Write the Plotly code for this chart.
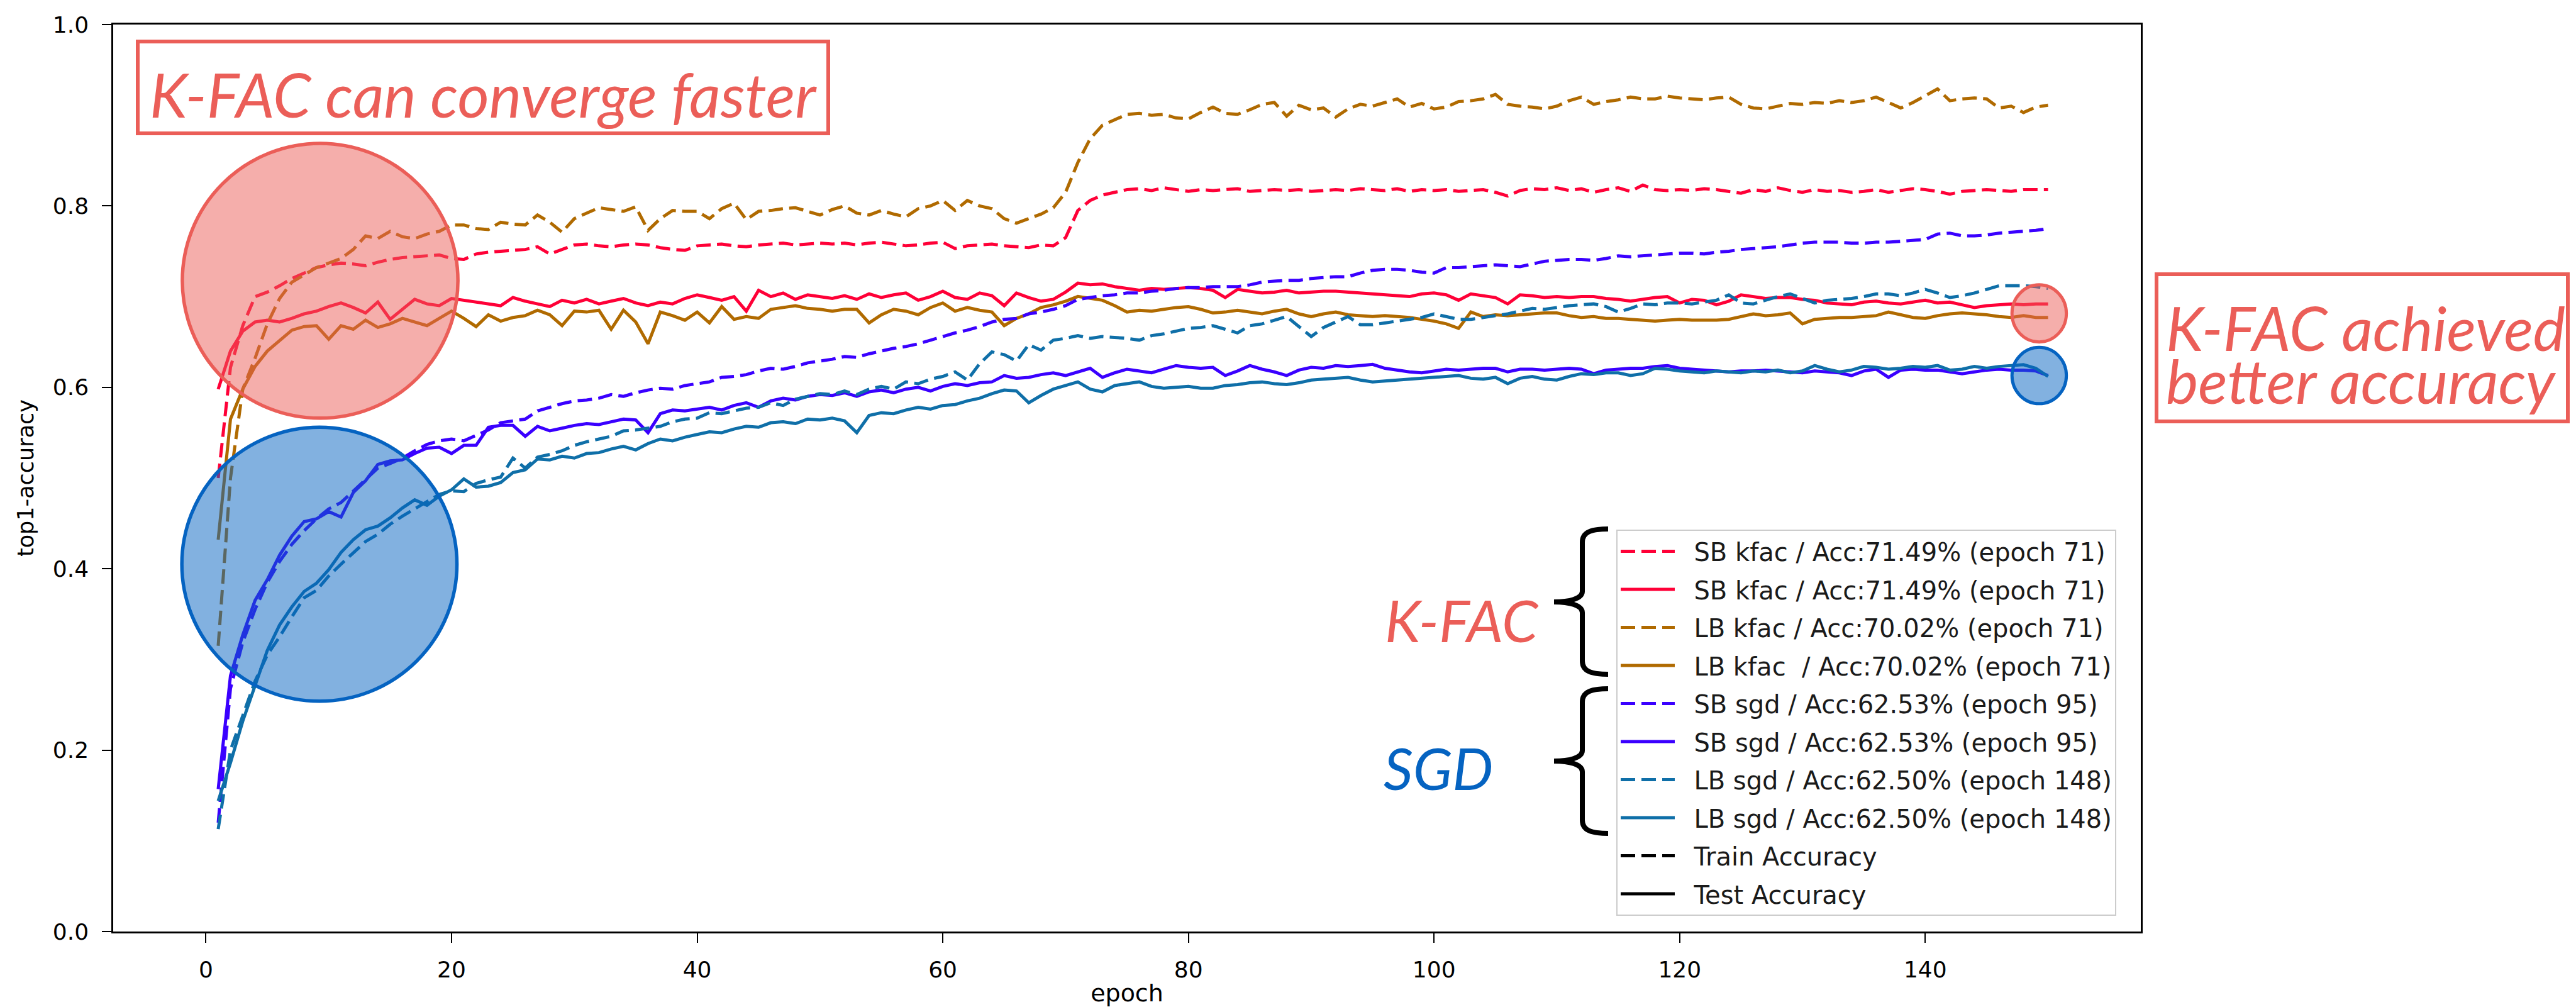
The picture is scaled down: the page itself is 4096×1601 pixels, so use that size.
import plotly.graph_objects as go

epochs = list(range(1, 151))

sb_kfac_train = [
    0.500, 0.622, 0.668, 0.700, 0.705, 0.712, 0.720, 0.726, 0.732, 0.735,
    0.737, 0.736, 0.734, 0.738, 0.741, 0.743, 0.744, 0.745, 0.746, 0.742,
    0.741, 0.747, 0.749, 0.750, 0.751, 0.752, 0.755, 0.747, 0.752, 0.757,
    0.758, 0.756, 0.755, 0.757, 0.758, 0.757, 0.754, 0.752, 0.751, 0.756,
    0.757, 0.758, 0.756, 0.755, 0.757, 0.758, 0.759, 0.757, 0.758, 0.759,
    0.758, 0.759, 0.757, 0.759, 0.760, 0.758, 0.756, 0.757, 0.759, 0.760,
    0.753, 0.756, 0.757, 0.758, 0.756, 0.755, 0.754, 0.757, 0.756, 0.765,
    0.795, 0.806, 0.812, 0.815, 0.818, 0.819, 0.817, 0.820, 0.818, 0.816,
    0.818, 0.817, 0.818, 0.819, 0.816, 0.817, 0.818, 0.817, 0.818, 0.816,
    0.817, 0.818, 0.817, 0.819, 0.818, 0.817, 0.819, 0.816, 0.818, 0.817,
    0.818, 0.816, 0.817, 0.818, 0.815, 0.811, 0.817, 0.819, 0.818, 0.820,
    0.817, 0.819, 0.815, 0.818, 0.820, 0.816, 0.823, 0.818, 0.817, 0.818,
    0.817, 0.819, 0.818, 0.816, 0.814, 0.818, 0.816, 0.820, 0.817, 0.815,
    0.818, 0.816, 0.817, 0.815, 0.816, 0.818, 0.815, 0.817, 0.819, 0.818,
    0.816, 0.813, 0.816, 0.817, 0.818, 0.817, 0.816, 0.818, 0.818, 0.818,
]

sb_kfac_test = [
    0.598, 0.640, 0.662, 0.672, 0.674, 0.672, 0.676, 0.681, 0.684, 0.689,
    0.693, 0.688, 0.682, 0.694, 0.675, 0.686, 0.697, 0.692, 0.690, 0.698,
    0.696, 0.694, 0.692, 0.690, 0.699, 0.695, 0.692, 0.689, 0.696, 0.693,
    0.697, 0.692, 0.695, 0.698, 0.693, 0.690, 0.694, 0.692, 0.698, 0.702,
    0.699, 0.696, 0.700, 0.684, 0.707, 0.700, 0.704, 0.697, 0.702, 0.700,
    0.698, 0.701, 0.697, 0.703, 0.699, 0.702, 0.704, 0.696, 0.700, 0.706,
    0.699, 0.697, 0.704, 0.701, 0.690, 0.704, 0.699, 0.695, 0.697, 0.705,
    0.7149, 0.713, 0.714, 0.711, 0.709, 0.707, 0.709, 0.708, 0.709, 0.710,
    0.709, 0.707, 0.699, 0.708, 0.706, 0.704, 0.705, 0.707, 0.704, 0.705,
    0.706, 0.706, 0.705, 0.704, 0.703, 0.702, 0.701, 0.700, 0.703, 0.704,
    0.702, 0.696, 0.703, 0.701, 0.699, 0.692, 0.702, 0.701, 0.699, 0.700,
    0.699, 0.700, 0.700, 0.698, 0.697, 0.695, 0.697, 0.699, 0.700, 0.693,
    0.697, 0.696, 0.691, 0.695, 0.702, 0.700, 0.698, 0.699, 0.699, 0.697,
    0.696, 0.693, 0.692, 0.691, 0.694, 0.695, 0.693, 0.692, 0.694, 0.696,
    0.693, 0.694, 0.691, 0.688, 0.690, 0.691, 0.692, 0.691, 0.692, 0.692,
]

lb_kfac_train = [
    0.315, 0.500, 0.598, 0.632, 0.670, 0.698, 0.716, 0.724, 0.732, 0.737,
    0.742, 0.752, 0.767, 0.764, 0.772, 0.766, 0.764, 0.769, 0.772, 0.779,
    0.779, 0.775, 0.774, 0.782, 0.780, 0.779, 0.790, 0.782, 0.771, 0.786,
    0.792, 0.798, 0.796, 0.794, 0.799, 0.773, 0.786, 0.795, 0.794, 0.794,
    0.786, 0.797, 0.803, 0.785, 0.794, 0.795, 0.797, 0.798, 0.794, 0.790,
    0.796, 0.800, 0.792, 0.790, 0.795, 0.791, 0.788, 0.797, 0.800, 0.806,
    0.795, 0.806, 0.800, 0.797, 0.786, 0.781, 0.786, 0.791, 0.798, 0.815,
    0.848, 0.874, 0.889, 0.895, 0.901, 0.902, 0.900, 0.901, 0.897, 0.896,
    0.903, 0.909, 0.902, 0.901, 0.906, 0.912, 0.914, 0.899, 0.911, 0.906,
    0.908, 0.898, 0.907, 0.912, 0.910, 0.914, 0.918, 0.909, 0.913, 0.907,
    0.909, 0.915, 0.916, 0.918, 0.923, 0.912, 0.910, 0.909, 0.907, 0.910,
    0.916, 0.920, 0.912, 0.915, 0.917, 0.920, 0.918, 0.918, 0.921, 0.919,
    0.918, 0.917, 0.919, 0.920, 0.912, 0.908, 0.907, 0.910, 0.913, 0.912,
    0.914, 0.913, 0.916, 0.914, 0.916, 0.920, 0.914, 0.908, 0.914, 0.922,
    0.929, 0.916, 0.918, 0.919, 0.918, 0.908, 0.910, 0.903, 0.909, 0.911,
]

lb_kfac_test = [
    0.432, 0.565, 0.598, 0.623, 0.640, 0.652, 0.663, 0.667, 0.668, 0.653,
    0.668, 0.664, 0.674, 0.666, 0.670, 0.676, 0.672, 0.668, 0.676, 0.684,
    0.676, 0.667, 0.680, 0.673, 0.677, 0.679, 0.685, 0.680, 0.668, 0.684,
    0.683, 0.685, 0.664, 0.685, 0.672, 0.648, 0.683, 0.679, 0.674, 0.683,
    0.671, 0.689, 0.675, 0.678, 0.676, 0.686, 0.688, 0.690, 0.687, 0.686,
    0.684, 0.686, 0.686, 0.671, 0.680, 0.686, 0.684, 0.680, 0.688, 0.693,
    0.684, 0.688, 0.685, 0.683, 0.668, 0.676, 0.681, 0.688, 0.691, 0.695,
    0.7002, 0.698, 0.696, 0.690, 0.683, 0.685, 0.684, 0.686, 0.688, 0.689,
    0.686, 0.682, 0.683, 0.685, 0.683, 0.681, 0.684, 0.686, 0.681, 0.678,
    0.681, 0.683, 0.680, 0.679, 0.678, 0.679, 0.678, 0.677, 0.675, 0.673,
    0.670, 0.665, 0.683, 0.678, 0.680, 0.679, 0.680, 0.681, 0.682, 0.682,
    0.679, 0.677, 0.678, 0.676, 0.676, 0.675, 0.674, 0.673, 0.674, 0.675,
    0.674, 0.674, 0.674, 0.675, 0.678, 0.681, 0.679, 0.680, 0.682, 0.670,
    0.675, 0.676, 0.677, 0.677, 0.678, 0.679, 0.683, 0.680, 0.677, 0.676,
    0.679, 0.681, 0.682, 0.681, 0.680, 0.678, 0.677, 0.679, 0.677, 0.677,
]

sb_sgd_train = [
    0.120, 0.268, 0.319, 0.355, 0.385, 0.408, 0.427, 0.442, 0.455, 0.466,
    0.473, 0.486, 0.498, 0.511, 0.516, 0.522, 0.530, 0.537, 0.541, 0.543,
    0.541, 0.547, 0.553, 0.561, 0.563, 0.565, 0.574, 0.578, 0.582, 0.585,
    0.586, 0.588, 0.592, 0.590, 0.594, 0.597, 0.599, 0.598, 0.602, 0.604,
    0.606, 0.611, 0.612, 0.614, 0.618, 0.621, 0.620, 0.623, 0.627, 0.629,
    0.631, 0.634, 0.633, 0.637, 0.640, 0.643, 0.645, 0.648, 0.652, 0.656,
    0.660, 0.663, 0.667, 0.672, 0.675, 0.676, 0.681, 0.683, 0.686, 0.690,
    0.697, 0.699, 0.701, 0.702, 0.704, 0.704, 0.706, 0.707, 0.709, 0.710,
    0.710, 0.711, 0.711, 0.711, 0.713, 0.716, 0.717, 0.718, 0.718, 0.720,
    0.721, 0.722, 0.722, 0.726, 0.729, 0.730, 0.730, 0.729, 0.727, 0.726,
    0.732, 0.732, 0.733, 0.734, 0.735, 0.734, 0.733, 0.736, 0.739, 0.740,
    0.741, 0.741, 0.740, 0.742, 0.745, 0.744, 0.745, 0.746, 0.747, 0.748,
    0.748, 0.747, 0.749, 0.750, 0.752, 0.753, 0.754, 0.755, 0.757, 0.759,
    0.760, 0.760, 0.760, 0.759, 0.759, 0.760, 0.760, 0.761, 0.762, 0.763,
    0.769, 0.770, 0.767, 0.767, 0.768, 0.770, 0.771, 0.772, 0.773, 0.775,
]

sb_sgd_test = [
    0.157, 0.282, 0.327, 0.365, 0.388, 0.415, 0.436, 0.452, 0.455, 0.463,
    0.457, 0.484, 0.497, 0.515, 0.519, 0.520, 0.527, 0.533, 0.534, 0.527,
    0.536, 0.536, 0.556, 0.558, 0.558, 0.546, 0.557, 0.552, 0.555, 0.558,
    0.560, 0.559, 0.562, 0.565, 0.564, 0.550, 0.571, 0.575, 0.574, 0.576,
    0.578, 0.575, 0.580, 0.583, 0.578, 0.585, 0.588, 0.586, 0.590, 0.592,
    0.591, 0.594, 0.590, 0.595, 0.597, 0.594, 0.598, 0.600, 0.596, 0.601,
    0.604, 0.602, 0.605, 0.606, 0.613, 0.610, 0.611, 0.614, 0.616, 0.613,
    0.617, 0.621, 0.611, 0.616, 0.620, 0.618, 0.616, 0.620, 0.624, 0.622,
    0.621, 0.622, 0.613, 0.618, 0.624, 0.620, 0.617, 0.613, 0.619, 0.622,
    0.621, 0.624, 0.623, 0.624, 0.6253, 0.621, 0.619, 0.617, 0.616, 0.618,
    0.620, 0.619, 0.620, 0.621, 0.621, 0.617, 0.620, 0.620, 0.619, 0.620,
    0.621, 0.620, 0.615, 0.619, 0.620, 0.621, 0.621, 0.623, 0.624, 0.621,
    0.620, 0.619, 0.618, 0.617, 0.618, 0.618, 0.619, 0.618, 0.617, 0.616,
    0.618, 0.617, 0.616, 0.613, 0.618, 0.620, 0.611, 0.619, 0.620, 0.619,
    0.619, 0.617, 0.615, 0.617, 0.619, 0.620, 0.619, 0.619, 0.618, 0.613,
]

lb_sgd_train = [
    0.113, 0.200, 0.238, 0.276, 0.305, 0.325, 0.347, 0.368, 0.376, 0.392,
    0.405, 0.418, 0.430, 0.438, 0.449, 0.458, 0.466, 0.473, 0.482, 0.486,
    0.485, 0.494, 0.498, 0.501, 0.522, 0.511, 0.523, 0.526, 0.530, 0.536,
    0.540, 0.543, 0.546, 0.552, 0.553, 0.555, 0.557, 0.562, 0.565, 0.566,
    0.572, 0.571, 0.574, 0.577, 0.578, 0.583, 0.580, 0.587, 0.590, 0.593,
    0.592, 0.596, 0.592, 0.598, 0.601, 0.598, 0.606, 0.604, 0.609, 0.612,
    0.617, 0.608, 0.626, 0.639, 0.636, 0.629, 0.647, 0.641, 0.652, 0.654,
    0.657, 0.654, 0.656, 0.655, 0.654, 0.652, 0.657, 0.659, 0.662, 0.665,
    0.666, 0.668, 0.664, 0.660, 0.668, 0.670, 0.674, 0.678, 0.667, 0.656,
    0.666, 0.672, 0.678, 0.669, 0.669, 0.671, 0.673, 0.675, 0.677, 0.681,
    0.678, 0.675, 0.675, 0.677, 0.679, 0.681, 0.684, 0.687, 0.686, 0.688,
    0.690, 0.691, 0.692, 0.689, 0.683, 0.687, 0.692, 0.691, 0.693, 0.693,
    0.692, 0.694, 0.696, 0.702, 0.693, 0.692, 0.696, 0.700, 0.703, 0.698,
    0.693, 0.696, 0.697, 0.698, 0.700, 0.703, 0.703, 0.701, 0.704, 0.708,
    0.704, 0.699, 0.701, 0.704, 0.708, 0.712, 0.712, 0.712, 0.711, 0.709,
]

lb_sgd_test = [
    0.144, 0.186, 0.232, 0.272, 0.310, 0.338, 0.358, 0.375, 0.384, 0.399,
    0.418, 0.432, 0.443, 0.447, 0.456, 0.467, 0.476, 0.470, 0.480, 0.487,
    0.499, 0.490, 0.491, 0.495, 0.506, 0.509, 0.521, 0.520, 0.524, 0.522,
    0.527, 0.528, 0.532, 0.535, 0.531, 0.538, 0.543, 0.541, 0.545, 0.548,
    0.551, 0.550, 0.554, 0.557, 0.556, 0.561, 0.562, 0.560, 0.565, 0.564,
    0.566, 0.563, 0.550, 0.569, 0.572, 0.571, 0.575, 0.578, 0.576, 0.580,
    0.581, 0.585, 0.588, 0.593, 0.597, 0.596, 0.583, 0.591, 0.598, 0.602,
    0.606, 0.598, 0.595, 0.602, 0.604, 0.606, 0.601, 0.599, 0.600, 0.601,
    0.599, 0.599, 0.602, 0.603, 0.605, 0.606, 0.604, 0.603, 0.605, 0.608,
    0.609, 0.610, 0.611, 0.608, 0.606, 0.607, 0.608, 0.609, 0.610, 0.611,
    0.612, 0.613, 0.610, 0.609, 0.611, 0.604, 0.610, 0.612, 0.609, 0.608,
    0.612, 0.615, 0.614, 0.616, 0.616, 0.613, 0.615, 0.621, 0.620, 0.618,
    0.617, 0.616, 0.618, 0.617, 0.616, 0.618, 0.617, 0.619, 0.616, 0.618,
    0.624, 0.620, 0.617, 0.619, 0.623, 0.622, 0.620, 0.621, 0.623, 0.622,
    0.624, 0.619, 0.620, 0.623, 0.621, 0.623, 0.624, 0.6250, 0.621, 0.612,
]

series_names = [
    "SB kfac / Acc:71.49% (epoch 71)",
    "SB kfac / Acc:71.49% (epoch 71)",
    "LB kfac / Acc:70.02% (epoch 71)",
    "LB kfac\u00a0 / Acc:70.02% (epoch 71)",
    "SB sgd / Acc:62.53% (epoch 95)",
    "SB sgd / Acc:62.53% (epoch 95)",
    "LB sgd / Acc:62.50% (epoch 148)",
    "LB sgd / Acc:62.50% (epoch 148)",
]
series_values = [sb_kfac_train, sb_kfac_test, lb_kfac_train, lb_kfac_test,
                 sb_sgd_train, sb_sgd_test, lb_sgd_train, lb_sgd_test]

RED = "#ff0037"
BROWN = "#b06a00"
VIOLET = "#3a00ff"
TEAL = "#0f6fa8"
series_colors = [RED, RED, BROWN, BROWN, VIOLET, VIOLET, TEAL, TEAL]
DASH = "23px,10px"
series_dash = [DASH, "solid"] * 4

x_ticks = [0, 20, 40, 60, 80, 100, 120, 140]
y_ticks = [0.0, 0.2, 0.4, 0.6, 0.8, 1.0]

CORAL = "#eb5e58"
OFFICE_BLUE = "#0563c1"
LW = 5
PAD = "\u00a0\u00a0"  # gap between legend sample line and its text

fig = go.Figure()
for i, (name, vals) in enumerate(zip(series_names, series_values)):
    fig.add_trace(go.Scatter(
        x=epochs, y=vals, mode="lines", name=PAD + name, legendgroup=f"g{i}",
        line=dict(color=series_colors[i], width=LW, dash=series_dash[i]),
    ))
fig.add_trace(go.Scatter(x=[None], y=[None], mode="lines", name=PAD + "Train Accuracy",
                         legendgroup="g8", line=dict(color="black", width=LW, dash=DASH)))
fig.add_trace(go.Scatter(x=[None], y=[None], mode="lines", name=PAD + "Test Accuracy",
                         legendgroup="g9", line=dict(color="black", width=LW)))

# plot-area geometry in output pixels
PL, PR, PT, PB = 180, 3404, 39, 1481
PW, PH = PR - PL, PB - PT


def fx(xo):
    return (xo - PL) / PW


def fy(yo):
    return (PB - yo) / PH


shapes = []
# highlight circles (data coordinates)
shapes.append(dict(type="circle", xref="x", yref="y", x0=-1.92, x1=20.52, y0=0.566, y1=0.869,
                   fillcolor="rgba(235,94,88,0.5)", line=dict(color=CORAL, width=5.5), layer="above"))
shapes.append(dict(type="circle", xref="x", yref="y", x0=-1.96, x1=20.44, y0=0.254, y1=0.556,
                   fillcolor="rgba(5,99,193,0.5)", line=dict(color=OFFICE_BLUE, width=5.5), layer="above"))
shapes.append(dict(type="circle", xref="x", yref="y", x0=147.06, x1=151.49, y0=0.650, y1=0.713,
                   fillcolor="rgba(235,94,88,0.5)", line=dict(color=CORAL, width=5), layer="above"))
shapes.append(dict(type="circle", xref="x", yref="y", x0=147.06, x1=151.49, y0=0.582, y1=0.644,
                   fillcolor="rgba(5,99,193,0.5)", line=dict(color=OFFICE_BLUE, width=5), layer="above"))

# annotation boxes (paper coords)
shapes.append(dict(type="rect", xref="paper", yref="paper",
                   x0=fx(219), x1=fx(1317), y0=fy(212), y1=fy(66),
                   line=dict(color=CORAL, width=6), fillcolor="white", layer="above"))
shapes.append(dict(type="rect", xref="paper", yref="paper",
                   x0=fx(3429), x1=fx(4083), y0=fy(670), y1=fy(436),
                   line=dict(color=CORAL, width=6), fillcolor="white", layer="above"))


def brace(top, tip, bottom, x_end=2557, x_stem=2516, x_tip=2471):
    pts = [
        ("M", [(x_end, top)]),
        ("C", [(x_end - 27, top), (x_stem, top + 5), (x_stem, top + 21)]),
        ("L", [(x_stem, tip - 17)]),
        ("C", [(x_stem, tip - 5), (x_stem - 21, tip), (x_tip, tip)]),
        ("C", [(x_stem - 21, tip), (x_stem, tip + 5), (x_stem, tip + 17)]),
        ("L", [(x_stem, bottom - 21)]),
        ("C", [(x_stem, bottom - 5), (x_end - 27, bottom), (x_end, bottom)]),
    ]
    s = ""
    for cmd, plist in pts:
        s += cmd + " " + " ".join(f"{fx(a):.5f},{fy(b):.5f}" for a, b in plist) + " "
    return s.strip()


shapes.append(dict(type="path", xref="paper", yref="paper", path=brace(841, 957, 1072),
                   line=dict(color="black", width=8), layer="above"))
shapes.append(dict(type="path", xref="paper", yref="paper", path=brace(1095, 1210, 1325),
                   line=dict(color="black", width=8), layer="above"))

FAM = "Lato, Open Sans, sans-serif"
annotations = [
    dict(text="K-FAC can converge faster", xref="paper", yref="paper", x=fx(768), y=fy(150),
         xanchor="center", yanchor="middle", showarrow=False,
         font=dict(family=FAM, size=97, color=CORAL, style="italic")),
    dict(text="K-FAC achieved", xref="paper", yref="paper", x=fx(3442), y=fy(520),
         xanchor="left", yanchor="middle", showarrow=False,
         font=dict(family=FAM, size=97, color=CORAL, style="italic")),
    dict(text="better accuracy", xref="paper", yref="paper", x=fx(3442), y=fy(604),
         xanchor="left", yanchor="middle", showarrow=False,
         font=dict(family=FAM, size=97, color=CORAL, style="italic")),
    dict(text="K-FAC", xref="paper", yref="paper", x=fx(2200), y=fy(986),
         xanchor="left", yanchor="middle", showarrow=False,
         font=dict(family=FAM, size=92, color=CORAL, style="italic")),
    dict(text="SGD", xref="paper", yref="paper", x=fx(2198), y=fy(1220),
         xanchor="left", yanchor="middle", showarrow=False,
         font=dict(family=FAM, size=92, color=OFFICE_BLUE, style="italic")),
]

tick_font = dict(family="DejaVu Sans", size=36, color="black")
axis_common = dict(showline=True, linecolor="black", linewidth=2.5, mirror=True,
                   ticks="outside", ticklen=15, tickwidth=2, tickcolor="black",
                   showgrid=False, zeroline=False, tickfont=tick_font, automargin=False)

fig.update_layout(
    width=4096, height=1601,
    margin=dict(l=PL, r=4096 - PR, t=PT, b=1601 - PB),
    paper_bgcolor="white", plot_bgcolor="white",
    xaxis=dict(range=[-7.55, 157.55], tickvals=x_ticks, ticktext=[str(v) for v in x_ticks],
               ticklabelstandoff=12,
               title=dict(text="epoch", font=dict(family="DejaVu Sans", size=38, color="black"), standoff=10),
               **axis_common),
    yaxis=dict(range=[0, 1], tickvals=y_ticks, ticktext=[f"{v:.1f}" for v in y_ticks],
               ticklabelstandoff=14,
               title=dict(text="top1-accuracy", font=dict(family="DejaVu Sans", size=35, color="black"), standoff=20),
               **axis_common),
    legend=dict(x=fx(2570), y=fy(842), xanchor="left", yanchor="top",
                bgcolor="rgba(255,255,255,0.85)", bordercolor="#cccccc", borderwidth=2,
                font=dict(family="DejaVu Sans", size=40, color="#1a1a1a"),
                itemwidth=86, tracegroupgap=5.5),
    shapes=shapes,
    annotations=annotations,
    showlegend=True,
)

fig.write_html("out.html")
